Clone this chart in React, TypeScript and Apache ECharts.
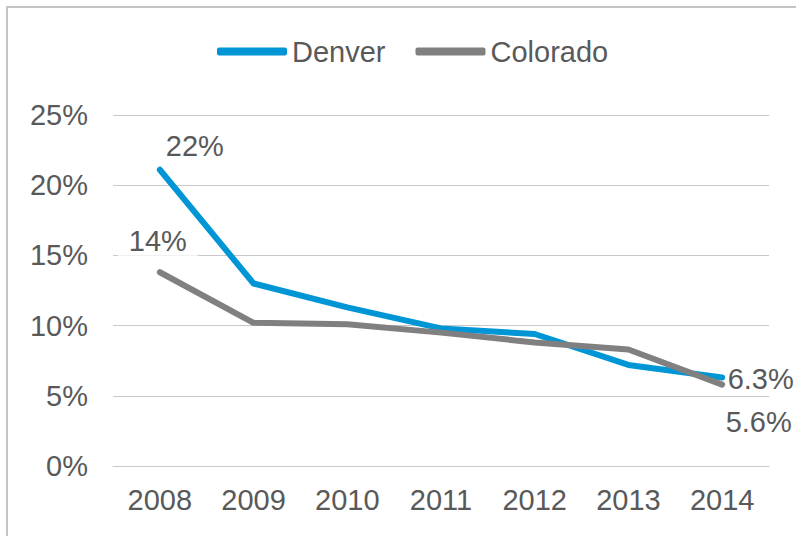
import React, { useEffect, useRef } from "react";
import * as echarts from "echarts";

const years = ["2008", "2009", "2010", "2011", "2012", "2013", "2014"];
const denver = [21.1, 13.0, 11.3, 9.8, 9.4, 7.2, 6.3];
const colorado = [13.8, 10.2, 10.1, 9.5, 8.8, 8.3, 5.8];
const denverLabels = ["22%", "", "", "", "", "", "6.3%"];
const coloradoLabels = ["14%", "", "", "", "", "", "5.6%"];
const yTicks = [0, 5, 10, 15, 20, 25];

const FONT = "'Liberation Sans', Arial, sans-serif";
const TEXT = "#595959";

export default function App() {
  const ref = useRef<HTMLDivElement>(null);
  useEffect(() => {
    if (!ref.current) return;
    const chart = echarts.init(ref.current, undefined, { renderer: "svg" });
    const labelStyle = { color: TEXT, fontSize: 29, fontFamily: FONT };
    const denverData = denver.map((v, i) => {
      if (i === 0)
        return { value: v, label: { show: true, position: "top", offset: [35, -4], formatter: denverLabels[i], ...labelStyle } };
      if (i === 6)
        return { value: v, label: { show: true, position: "right", offset: [0, 1], formatter: denverLabels[i], ...labelStyle } };
      return v;
    });
    const coloradoData = colorado.map((v, i) => {
      if (i === 0)
        return {
          value: v,
          label: { show: true, position: "top", offset: [-2, -11], formatter: coloradoLabels[i], backgroundColor: "#fff", padding: [0, 11], ...labelStyle },
        };
      if (i === 6)
        return { value: v, label: { show: true, position: "right", offset: [-2, 37], formatter: coloradoLabels[i], ...labelStyle } };
      return v;
    });
    chart.setOption({
      animation: false,
      backgroundColor: "#fff",
      textStyle: { fontFamily: FONT },
      graphic: [
        {
          type: "rect",
          shape: { x: 7, y: 7, width: 900, height: 700 },
          style: { fill: "none", stroke: "#C4C4C4", lineWidth: 2 },
          silent: true,
        },
      ],
      legend: {
        left: 212,
        top: 32,
        itemWidth: 70,
        itemHeight: 8,
        itemGap: 30,
        icon: "roundRect",
        textStyle: { color: TEXT, fontSize: 29, fontFamily: FONT, padding: [0, 0, 0, 0] },
        data: ["Denver", "Colorado"],
      },
      grid: { left: 113, right: 27, top: 115, bottom: 70, containLabel: false },
      xAxis: {
        type: "category",
        data: years,
        boundaryGap: true,
        axisLine: { show: true, lineStyle: { color: "#C8C8C8", width: 1 } },
        axisTick: { show: false },
        axisLabel: { color: TEXT, fontSize: 29, fontFamily: FONT, margin: 19, interval: 0 },
      },
      yAxis: {
        type: "value",
        min: yTicks[0],
        max: yTicks[yTicks.length - 1],
        interval: yTicks[1] - yTicks[0],
        axisLine: { show: false },
        axisTick: { show: false },
        splitLine: { lineStyle: { color: "#C8C8C8", width: 1 } },
        axisLabel: { color: TEXT, fontSize: 29, fontFamily: FONT, margin: 25, formatter: "{value}%" },
      },
      series: [
        {
          name: "Denver",
          type: "line",
          data: denverData,
          symbol: "circle",
          symbolSize: 1,
          showSymbol: true,
          itemStyle: { color: "#0096D6" },
          lineStyle: { color: "#0096D6", width: 6, cap: "round", join: "round" },
          z: 2,
        },
        {
          name: "Colorado",
          type: "line",
          data: coloradoData,
          symbol: "circle",
          symbolSize: 1,
          showSymbol: true,
          itemStyle: { color: "#808080" },
          lineStyle: { color: "#808080", width: 6, cap: "round", join: "round" },
          z: 3,
        },
      ],
    });
    return () => chart.dispose();
  }, []);
  return (
    <div
      ref={ref}
      style={{ position: "fixed", left: 0, top: 0, width: 796, height: 536 }}
    />
  );
}
